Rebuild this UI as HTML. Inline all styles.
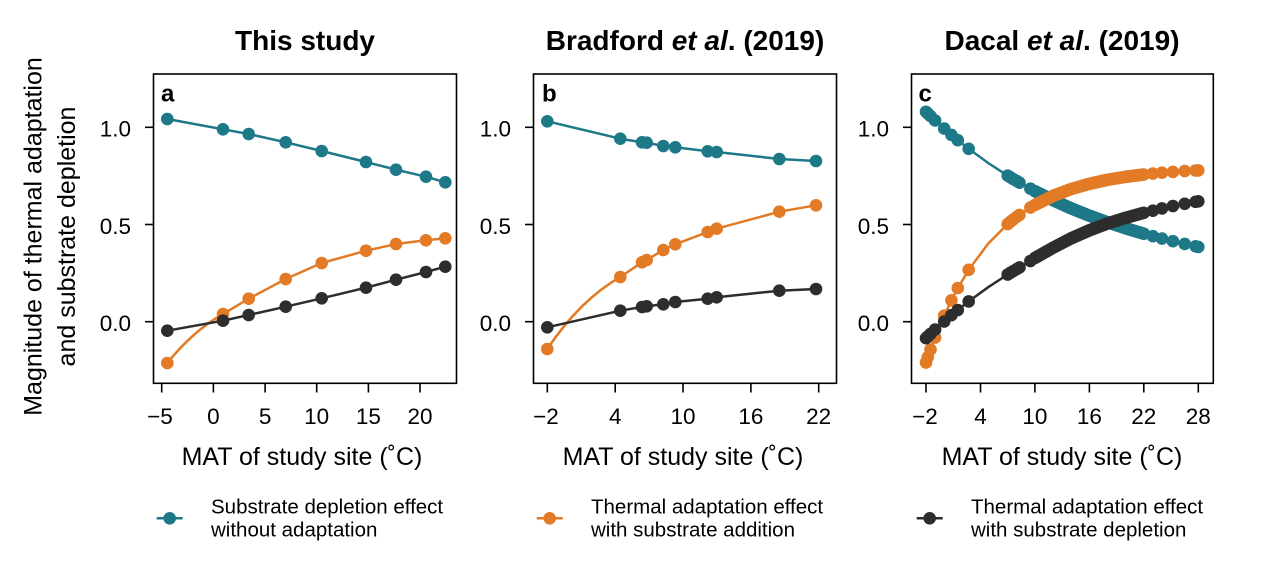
<!DOCTYPE html>
<html>
<head>
<meta charset="utf-8">
<style>
  html, body { margin: 0; padding: 0; background: #ffffff; }
  svg { display: block; }
  text { font-family: "Liberation Sans", Arial, sans-serif; fill: #000; }
  circle { r: 6.3px; }
</style>
</head>
<body>
<svg width="1269" height="577" viewBox="0 0 1269 577" xmlns="http://www.w3.org/2000/svg">
  <rect x="0" y="0" width="1269" height="577" fill="#ffffff"/>

  <!-- Titles -->
  <text x="305" y="50" font-size="28" font-weight="bold" text-anchor="middle">This study</text>
  <text x="685" y="50" font-size="28" font-weight="bold" text-anchor="middle">Bradford <tspan font-style="italic">et al</tspan>. (2019)</text>
  <text x="1062" y="50" font-size="28" font-weight="bold" text-anchor="middle">Dacal <tspan font-style="italic">et al</tspan>. (2019)</text>

  <!-- Y axis label -->
  <text transform="translate(41.7,236.5) rotate(-90)" font-size="25" text-anchor="middle">Magnitude of thermal adaptation</text>
  <text transform="translate(75,236.5) rotate(-90)" font-size="25" text-anchor="middle">and substrate depletion</text>

  <!-- ================= PANEL A ================= -->
  <g>
    <g stroke="#1d7888" fill="#1d7888">
      <polyline fill="none" stroke-width="2.5" points="167.3,119 223,129.3 248.7,134 285.7,142.3 321.7,151 366,162 396,169.7 426,176.7 445.3,182.3"/>
      <g stroke="none">
        <circle cx="167.3" cy="119" r="6.3"/><circle cx="223" cy="129.3" r="6.3"/><circle cx="248.7" cy="134" r="6.3"/>
        <circle cx="285.7" cy="142.3" r="6.3"/><circle cx="321.7" cy="151" r="6.3"/><circle cx="366" cy="162" r="6.3"/>
        <circle cx="396" cy="169.7" r="6.3"/><circle cx="426" cy="176.7" r="6.3"/><circle cx="445.3" cy="182.3" r="6.3"/>
      </g>
    </g>
    <g stroke="#e27a26" fill="#e27a26">
      <path fill="none" stroke-width="2.5" d="M167.3,363 Q193,331 223,314 L248.7,298.7 L285.7,279 L321.7,263 L366,250.7 L396,244 L426,240.3 L445.3,238.3"/>
      <g stroke="none">
        <circle cx="167.3" cy="363" r="6.3"/><circle cx="223" cy="314" r="6.3"/><circle cx="248.7" cy="298.7" r="6.3"/>
        <circle cx="285.7" cy="279" r="6.3"/><circle cx="321.7" cy="263" r="6.3"/><circle cx="366" cy="250.7" r="6.3"/>
        <circle cx="396" cy="244" r="6.3"/><circle cx="426" cy="240.3" r="6.3"/><circle cx="445.3" cy="238.3" r="6.3"/>
      </g>
    </g>
    <g stroke="#2d2d2d" fill="#2d2d2d">
      <polyline fill="none" stroke-width="2.5" points="167.3,330.7 223,320.7 248.7,315 285.7,306.7 321.7,298.3 366,287.7 396,279.7 426,272 445.3,266.7"/>
      <g stroke="none">
        <circle cx="167.3" cy="330.7" r="6.3"/><circle cx="223" cy="320.7" r="6.3"/><circle cx="248.7" cy="315" r="6.3"/>
        <circle cx="285.7" cy="306.7" r="6.3"/><circle cx="321.7" cy="298.3" r="6.3"/><circle cx="366" cy="287.7" r="6.3"/>
        <circle cx="396" cy="279.7" r="6.3"/><circle cx="426" cy="272" r="6.3"/><circle cx="445.3" cy="266.7" r="6.3"/>
      </g>
    </g>
    <rect x="153.5" y="74" width="303" height="309.3" fill="none" stroke="#000" stroke-width="1.6"/>
    <g stroke="#000" stroke-width="1.6">
      <line x1="145" y1="127.3" x2="153.5" y2="127.3"/>
      <line x1="145" y1="224.5" x2="153.5" y2="224.5"/>
      <line x1="145" y1="321.7" x2="153.5" y2="321.7"/>
      <line x1="161.7" y1="383.3" x2="161.7" y2="392.5"/>
      <line x1="213.4" y1="383.3" x2="213.4" y2="392.5"/>
      <line x1="265.1" y1="383.3" x2="265.1" y2="392.5"/>
      <line x1="316.7" y1="383.3" x2="316.7" y2="392.5"/>
      <line x1="368.4" y1="383.3" x2="368.4" y2="392.5"/>
      <line x1="420.0" y1="383.3" x2="420.0" y2="392.5"/>
    </g>
    <g font-size="22.5" text-anchor="end">
      <text x="131" y="136.7">1.0</text>
      <text x="131" y="233.9">0.5</text>
      <text x="131" y="331.1">0.0</text>
    </g>
    <g font-size="22.5" text-anchor="middle">
      <text x="160" y="424">−5</text>
      <text x="213.4" y="424">0</text>
      <text x="265.1" y="424">5</text>
      <text x="316.7" y="424">10</text>
      <text x="368.4" y="424">15</text>
      <text x="420.0" y="424">20</text>
    </g>
    <text x="161" y="101.5" font-size="24" font-weight="bold">a</text>
    <text x="302" y="465" font-size="25" text-anchor="middle">MAT of study site (˚C)</text>
  </g>

  <!-- ================= PANEL B ================= -->
  <g>
    <g stroke="#1d7888" fill="#1d7888">
      <polyline fill="none" stroke-width="2.5" points="547.3,121.3 620.3,138.7 642,142.3 646.7,142.7 663.3,146 675.3,147.3 707.7,151.3 716.7,152 779.3,159 816,161"/>
      <g stroke="none">
        <circle cx="547.3" cy="121.3" r="6.3"/><circle cx="620.3" cy="138.7" r="6.3"/><circle cx="642" cy="142.3" r="6.3"/>
        <circle cx="646.7" cy="142.7" r="6.3"/><circle cx="663.3" cy="146" r="6.3"/><circle cx="675.3" cy="147.3" r="6.3"/>
        <circle cx="707.7" cy="151.3" r="6.3"/><circle cx="716.7" cy="152" r="6.3"/><circle cx="779.3" cy="159" r="6.3"/>
        <circle cx="816" cy="161" r="6.3"/>
      </g>
    </g>
    <g stroke="#e27a26" fill="#e27a26">
      <path fill="none" stroke-width="2.5" d="M547.3,349 Q580,300 620.3,277 L642,262.3 L646.7,260 L663.3,250 L675.3,244.3 L707.7,232 L716.7,228.7 L779.3,211.7 L816,205.3"/>
      <g stroke="none">
        <circle cx="547.3" cy="349" r="6.3"/><circle cx="620.3" cy="277" r="6.3"/><circle cx="642" cy="262.3" r="6.3"/>
        <circle cx="646.7" cy="260" r="6.3"/><circle cx="663.3" cy="250" r="6.3"/><circle cx="675.3" cy="244.3" r="6.3"/>
        <circle cx="707.7" cy="232" r="6.3"/><circle cx="716.7" cy="228.7" r="6.3"/><circle cx="779.3" cy="211.7" r="6.3"/>
        <circle cx="816" cy="205.3" r="6.3"/>
      </g>
    </g>
    <g stroke="#2d2d2d" fill="#2d2d2d">
      <polyline fill="none" stroke-width="2.5" points="547.3,327.3 620.3,310.7 642,307 646.7,306.3 663.3,304.3 675.3,302 707.7,298.7 716.7,297.3 779.3,290.7 816,289"/>
      <g stroke="none">
        <circle cx="547.3" cy="327.3" r="6.3"/><circle cx="620.3" cy="310.7" r="6.3"/><circle cx="642" cy="307" r="6.3"/>
        <circle cx="646.7" cy="306.3" r="6.3"/><circle cx="663.3" cy="304.3" r="6.3"/><circle cx="675.3" cy="302" r="6.3"/>
        <circle cx="707.7" cy="298.7" r="6.3"/><circle cx="716.7" cy="297.3" r="6.3"/><circle cx="779.3" cy="290.7" r="6.3"/>
        <circle cx="816" cy="289" r="6.3"/>
      </g>
    </g>
    <rect x="533.5" y="74" width="303" height="309.3" fill="none" stroke="#000" stroke-width="1.6"/>
    <g stroke="#000" stroke-width="1.6">
      <line x1="525" y1="127.3" x2="533.5" y2="127.3"/>
      <line x1="525" y1="224.5" x2="533.5" y2="224.5"/>
      <line x1="525" y1="321.7" x2="533.5" y2="321.7"/>
      <line x1="547.3" y1="383.3" x2="547.3" y2="392.5"/>
      <line x1="615.2" y1="383.3" x2="615.2" y2="392.5"/>
      <line x1="683.0" y1="383.3" x2="683.0" y2="392.5"/>
      <line x1="750.9" y1="383.3" x2="750.9" y2="392.5"/>
      <line x1="818.7" y1="383.3" x2="818.7" y2="392.5"/>
    </g>
    <g font-size="22.5" text-anchor="end">
      <text x="511" y="136.7">1.0</text>
      <text x="511" y="233.9">0.5</text>
      <text x="511" y="331.1">0.0</text>
    </g>
    <g font-size="22.5" text-anchor="middle">
      <text x="546" y="424">−2</text>
      <text x="615.2" y="424">4</text>
      <text x="683.0" y="424">10</text>
      <text x="750.9" y="424">16</text>
      <text x="818.7" y="424">22</text>
    </g>
    <text x="542" y="101.5" font-size="24" font-weight="bold">b</text>
    <text x="683" y="465" font-size="25" text-anchor="middle">MAT of study site (˚C)</text>
  </g>

  <!-- ================= PANEL C ================= -->
  <g>
    <!-- teal -->
    <g stroke="#1d7888" fill="#1d7888">
      <polyline fill="none" stroke-width="2.5" points="926,111.75 927.8,113.5 930.5,116.1 933.3,118.7 935.1,120.4 944.2,128.6 951.4,134.9 957.8,140.2 968.7,148.8 988.2,163.0 1007.7,175.7 1010.4,177.3 1013.1,179.0 1016.8,181.1 1019.5,182.7 1030.4,188.7 1034.9,191.2 1053.1,200.2 1071.2,208.4 1089.4,215.7 1107.5,222.3 1125.7,228.3 1143.8,233.7 1152.9,236.2 1162,238.6 1172.9,241.2 1184.7,243.9 1195.6,246.3 1198.3,246.9"/>
      <polyline fill="none" stroke-width="12.6" stroke-linecap="round" stroke-linejoin="round" points="1034.9,191.2 1053.1,200.2 1071.2,208.4 1089.4,215.7 1107.5,222.3 1125.7,228.3 1143.8,233.7"/>
      <g stroke="none">
        <circle cx="926" cy="111.75" r="6.3"/><circle cx="927.8" cy="113.5" r="6.3"/><circle cx="930.5" cy="116.1" r="6.3"/>
        <circle cx="935.1" cy="120.4" r="6.3"/><circle cx="944.2" cy="128.6" r="6.3"/><circle cx="951.4" cy="134.9" r="6.3"/>
        <circle cx="957.8" cy="140.2" r="6.3"/><circle cx="968.7" cy="148.8" r="6.3"/>
        <circle cx="1007.7" cy="175.7" r="6.3"/><circle cx="1010.4" cy="177.3" r="6.3"/><circle cx="1013.1" cy="179.0" r="6.3"/>
        <circle cx="1016.8" cy="181.1" r="6.3"/><circle cx="1019.5" cy="182.7" r="6.3"/><circle cx="1030.4" cy="188.7" r="6.3"/>
        <circle cx="1152.9" cy="236.2" r="6.3"/><circle cx="1162" cy="238.6" r="6.3"/><circle cx="1172.9" cy="241.2" r="6.3"/>
        <circle cx="1184.7" cy="243.9" r="6.3"/><circle cx="1195.6" cy="246.3" r="6.3"/><circle cx="1198.3" cy="246.9" r="6.3"/>
      </g>
    </g>
    <!-- orange -->
    <g stroke="#e27a26" fill="#e27a26">
      <polyline fill="none" stroke-width="2.5" points="926,362.5 927.8,357.2 930.5,349.6 933.3,342.2 935.1,337.6 944.2,315.7 951.4,300.3 957.8,288.1 968.7,269.8 988.2,243.6 1007.7,224.1 1010.4,221.8 1013.1,219.6 1016.8,216.8 1019.5,214.9 1030.4,207.6 1034.9,205.0 1053.1,195.9 1071.2,189.0 1089.4,183.8 1107.5,179.8 1125.7,176.8 1143.8,174.5 1152.9,173.5 1162,172.7 1172.9,171.9 1184.7,171.1 1195.6,170.5 1198.3,170.4"/>
      <polyline fill="none" stroke-width="12.6" stroke-linecap="round" stroke-linejoin="round" points="1034.9,205.0 1053.1,195.9 1071.2,189.0 1089.4,183.8 1107.5,179.8 1125.7,176.8 1143.8,174.5"/>
      <g stroke="none">
        <circle cx="926" cy="362.5" r="6.3"/><circle cx="927.8" cy="357.2" r="6.3"/><circle cx="930.5" cy="349.6" r="6.3"/>
        <circle cx="935.1" cy="337.6" r="6.3"/><circle cx="944.2" cy="315.7" r="6.3"/><circle cx="951.4" cy="300.3" r="6.3"/>
        <circle cx="957.8" cy="288.1" r="6.3"/><circle cx="968.7" cy="269.8" r="6.3"/>
        <circle cx="1007.7" cy="224.1" r="6.3"/><circle cx="1010.4" cy="221.8" r="6.3"/><circle cx="1013.1" cy="219.6" r="6.3"/>
        <circle cx="1016.8" cy="216.8" r="6.3"/><circle cx="1019.5" cy="214.9" r="6.3"/><circle cx="1030.4" cy="207.6" r="6.3"/>
        <circle cx="1152.9" cy="173.5" r="6.3"/><circle cx="1162" cy="172.7" r="6.3"/><circle cx="1172.9" cy="171.9" r="6.3"/>
        <circle cx="1184.7" cy="171.1" r="6.3"/><circle cx="1195.6" cy="170.5" r="6.3"/><circle cx="1198.3" cy="170.4" r="6.3"/>
      </g>
    </g>
    <!-- black -->
    <g stroke="#2d2d2d" fill="#2d2d2d">
      <polyline fill="none" stroke-width="2.5" points="926,338.2 927.8,336.5 930.5,333.9 933.3,331.3 935.1,329.6 944.2,321.5 951.4,315.2 957.8,310.0 968.7,301.4 988.2,287.2 1007.7,274.5 1010.4,272.8 1013.1,271.2 1016.8,269.0 1019.5,267.4 1030.4,261.0 1034.9,258.0 1053.1,247.7 1071.2,238.3 1089.4,230.3 1107.5,223.5 1125.7,217.8 1143.8,212.8 1152.9,210.7 1162,208.4 1172.9,206.0 1184.7,203.8 1195.6,201.8 1198.3,201.3"/>
      <polyline fill="none" stroke-width="12.6" stroke-linecap="round" stroke-linejoin="round" points="1034.9,258.0 1053.1,247.7 1071.2,238.3 1089.4,230.3 1107.5,223.5 1125.7,217.8 1143.8,212.8"/>
      <g stroke="none">
        <circle cx="926" cy="338.2" r="6.3"/><circle cx="927.8" cy="336.5" r="6.3"/><circle cx="930.5" cy="333.9" r="6.3"/>
        <circle cx="935.1" cy="329.6" r="6.3"/><circle cx="944.2" cy="321.5" r="6.3"/><circle cx="951.4" cy="315.2" r="6.3"/>
        <circle cx="957.8" cy="310.0" r="6.3"/><circle cx="968.7" cy="301.4" r="6.3"/>
        <circle cx="1007.7" cy="274.5" r="6.3"/><circle cx="1010.4" cy="272.8" r="6.3"/><circle cx="1013.1" cy="271.2" r="6.3"/>
        <circle cx="1016.8" cy="269.0" r="6.3"/><circle cx="1019.5" cy="267.4" r="6.3"/><circle cx="1030.4" cy="261.0" r="6.3"/>
        <circle cx="1152.9" cy="210.7" r="6.3"/><circle cx="1162" cy="208.4" r="6.3"/><circle cx="1172.9" cy="206.0" r="6.3"/>
        <circle cx="1184.7" cy="203.8" r="6.3"/><circle cx="1195.6" cy="201.8" r="6.3"/><circle cx="1198.3" cy="201.3" r="6.3"/>
      </g>
    </g>
    <rect x="911.5" y="74" width="301.8" height="309.3" fill="none" stroke="#000" stroke-width="1.6"/>
    <g stroke="#000" stroke-width="1.6">
      <line x1="903" y1="127.3" x2="911.5" y2="127.3"/>
      <line x1="903" y1="224.5" x2="911.5" y2="224.5"/>
      <line x1="903" y1="321.7" x2="911.5" y2="321.7"/>
      <line x1="926" y1="383.3" x2="926" y2="392.5"/>
      <line x1="980.5" y1="383.3" x2="980.5" y2="392.5"/>
      <line x1="1034.9" y1="383.3" x2="1034.9" y2="392.5"/>
      <line x1="1089.4" y1="383.3" x2="1089.4" y2="392.5"/>
      <line x1="1143.8" y1="383.3" x2="1143.8" y2="392.5"/>
      <line x1="1198.3" y1="383.3" x2="1198.3" y2="392.5"/>
    </g>
    <g font-size="22.5" text-anchor="end">
      <text x="889" y="136.7">1.0</text>
      <text x="889" y="233.9">0.5</text>
      <text x="889" y="331.1">0.0</text>
    </g>
    <g font-size="22.5" text-anchor="middle">
      <text x="925" y="424">−2</text>
      <text x="980.5" y="424">4</text>
      <text x="1034.9" y="424">10</text>
      <text x="1089.4" y="424">16</text>
      <text x="1143.8" y="424">22</text>
      <text x="1198.3" y="424">28</text>
    </g>
    <text x="918.5" y="101.5" font-size="24" font-weight="bold">c</text>
    <text x="1062" y="465" font-size="25" text-anchor="middle">MAT of study site (˚C)</text>
  </g>

  <!-- ================= LEGEND ================= -->
  <g>
    <line x1="156.7" y1="518.3" x2="182.7" y2="518.3" stroke="#1d7888" stroke-width="2.5"/>
    <circle cx="169.7" cy="518.3" r="6" fill="#1d7888"/>
    <text x="211" y="513.3" font-size="20.5">Substrate depletion effect</text>
    <text x="211" y="536.7" font-size="20.5">without adaptation</text>

    <line x1="536.7" y1="518.3" x2="562.7" y2="518.3" stroke="#e27a26" stroke-width="2.5"/>
    <circle cx="549.7" cy="518.3" r="6" fill="#e27a26"/>
    <text x="591" y="513.3" font-size="20.5">Thermal adaptation effect</text>
    <text x="591" y="536.7" font-size="20.5">with substrate addition</text>

    <line x1="916.7" y1="518.3" x2="942.7" y2="518.3" stroke="#2d2d2d" stroke-width="2.5"/>
    <circle cx="929.7" cy="518.3" r="6" fill="#2d2d2d"/>
    <text x="971" y="513.3" font-size="20.5">Thermal adaptation effect</text>
    <text x="971" y="536.7" font-size="20.5">with substrate depletion</text>
  </g>
</svg>
</body>
</html>
